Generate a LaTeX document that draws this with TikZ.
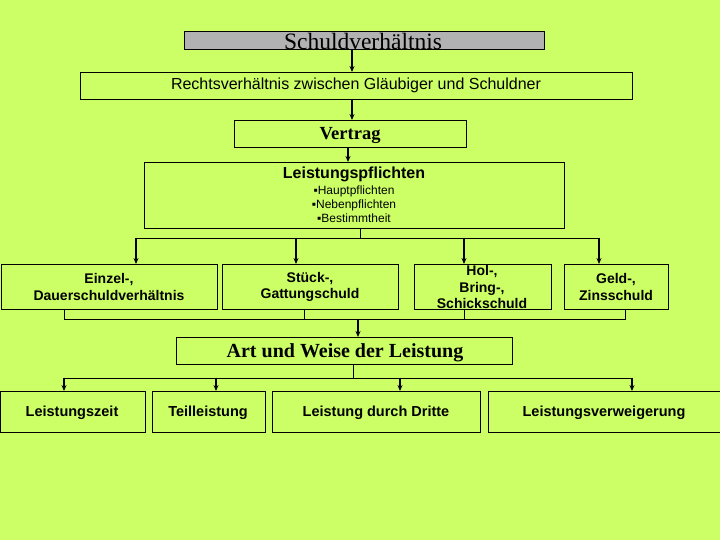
\documentclass[tikz,border=0pt]{standalone}
\usepackage{fontspec}
\setmainfont{Liberation Serif}
\setsansfont{Liberation Sans}
\usetikzlibrary{arrows.meta}
\definecolor{bg}{HTML}{CCFF66}
\definecolor{topgray}{HTML}{B2B2B2}
\tikzset{
  box/.style={draw=black, line width=0.8pt, inner sep=0pt},
  conn/.style={draw=black, line width=0.8pt},
  arr/.style={draw=black, line width=1.4pt, -{Stealth[length=6pt,width=5pt]}},
  sbold/.style={font=\sffamily\bfseries\fontsize{14}{16.5}\selectfont, align=center},
  sboldb/.style={font=\sffamily\bfseries\fontsize{14.5}{16.5}\selectfont, align=center},
}
\begin{document}
\begin{tikzpicture}[x=1pt,y=-1pt]
\fill[bg] (0,0) rectangle (720,540);
\useasboundingbox (0,0) rectangle (720,540);
% boxes
\draw[box, fill=topgray] (184,31) rectangle (544,49);
\node (schuld) at (363,41) {\fontsize{23.5}{23.5}\selectfont Schuldverhältnis};
\coordinate (schuldB) at (352,49);
\draw[box] (80,72) rectangle (632,99);
\node (recht) at (356,85.5) {\sffamily\fontsize{16}{16}\selectfont Rechtsverhältnis zwischen Gläubiger und Schuldner};
\coordinate (rechtT) at (352,72);
\coordinate (rechtB) at (352,99);
\draw[box] (234,120) rectangle (466,147);
\node (vertrag) at (350,135) {\bfseries\fontsize{18.5}{18.5}\selectfont Vertrag};
\coordinate (vertragT) at (352,120);
\coordinate (vertragB) at (348,147);
\draw[box] (144,162) rectangle (564,228);
\node (lp) at (354,174) {\sffamily\bfseries\fontsize{16}{16}\selectfont Leistungspflichten};
\node (lpl) at (354,204.5) [align=center, font=\sffamily\fontsize{12}{14}\selectfont] {▪Hauptpflichten\\▪Nebenpflichten\\▪Bestimmtheit};
\coordinate (lpT) at (348,162);
\coordinate (lpB) at (360,228);
% second row
\draw[box] (1,264) rectangle (217,309);
\node[sbold] (einzel) at (109,287) {Einzel-,\\Dauerschuldverhältnis};
\draw[box] (222,264) rectangle (398,309);
\node[sbold] (stueck) at (310,287) {Stück-,\\Gattungschuld};
\draw[box] (414,264) rectangle (551,309);
\node[sbold] (hol) at (482,287) {Hol-,\\Bring-,\\Schickschuld};
\draw[box] (564,264) rectangle (668,309);
\node[sbold] (geld) at (616,287) {Geld-,\\Zinsschuld};
% art und weise
\draw[box] (176,337) rectangle (512,364);
\node (art) at (345,352.5) {\bfseries\fontsize{20}{20}\selectfont Art und Weise der Leistung};
% bottom row
\draw[box] (0,391) rectangle (145,432);
\node[sboldb] (zeit) at (72,413) {Leistungszeit};
\draw[box] (152,391) rectangle (265,432);
\node[sboldb] (teil) at (208,413) {Teilleistung};
\draw[box] (272,391) rectangle (480,432);
\node[sboldb] (dritte) at (376,413) {Leistung durch Dritte};
\draw[box] (488,391) rectangle (720,432);
\node[sboldb] (verw) at (604,413) {Leistungsverweigerung};
% connectors top
\draw[arr] (schuldB) -- (rechtT);
\draw[arr] (rechtB) -- (vertragT);
\draw[arr] (vertragB) -- (lpT);
% fan out to row 2
\coordinate (j1) at (360,238);
\draw[conn] (lpB) -- (j1);
\draw[conn] (136,238) -- (599,238);
\draw[arr] (136,237.5) -- (136,264);
\draw[arr] (296,237.5) -- (296,264);
\draw[arr] (464,237.5) -- (464,264);
\draw[arr] (599,237.5) -- (599,264);
% gather from row 2
\draw[conn] (64,309) -- (64,319) -- (625,319) -- (625,309);
\draw[conn] (304,309) -- (304,319);
\draw[conn] (464,309) -- (464,319);
\draw[arr] (358,318.5) -- (358,337);
% fan out to bottom row
\draw[conn] (353,364) -- (353,378);
\draw[conn] (64,378) -- (632,378);
\draw[arr] (64,377.5) -- (64,391);
\draw[arr] (216,377.5) -- (216,391);
\draw[arr] (400,377.5) -- (400,391);
\draw[arr] (632,377.5) -- (632,391);
\end{tikzpicture}
\end{document}
